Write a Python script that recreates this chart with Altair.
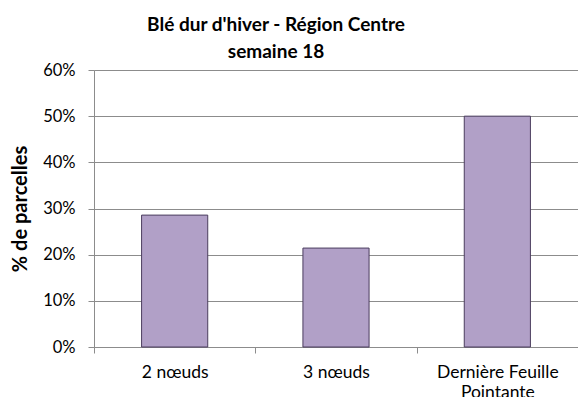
import altair as alt
import pandas as pd

categories = ["2 nœuds", "3 nœuds", "Dernière Feuille Pointante"]
values = [0.2857, 0.2143, 0.5]

df = pd.DataFrame({"stade": categories, "pct": values})

FONT = "Lato"
GRID = "#8c8c8c"

label_expr = ("datum.label == 'Dernière Feuille Pointante' ? "
              "['Dernière Feuille', 'Pointante'] : datum.label")

bars = alt.Chart(df).mark_bar(
    color="#b1a0c7", stroke="#4b3d5e", strokeWidth=1,
    width=alt.RelativeBandSize(0.41)
).encode(
    x=alt.X("stade:N", sort=categories, title=None,
            scale=alt.Scale(paddingInner=0, paddingOuter=0),
            axis=alt.Axis(labelAngle=0, labelExpr=label_expr, tickBand="extent",
                          tickSize=6, tickColor=GRID, domainColor=GRID,
                          labelPadding=10, labelFont=FONT, labelFontSize=17.5,
                          labelColor="#000000", labelLineHeight=20, grid=False)),
    y=alt.Y("pct:Q", title="% de parcelles",
            scale=alt.Scale(domain=[0, 0.6], nice=False),
            axis=alt.Axis(format=".0%", values=[0, 0.1, 0.2, 0.3, 0.4, 0.5, 0.6],
                          tickSize=6, tickColor=GRID, domainColor=GRID,
                          gridColor=GRID, gridWidth=1, labelPadding=13,
                          labelFont=FONT, labelFontSize=16.5, labelColor="#000000",
                          titleFont=FONT, titleFontSize=20, titleFontWeight="bold",
                          titleColor="#000000", titleX=-64)),
)

chart = bars.properties(
    width=484, height=277,
    title=alt.TitleParams(
        text=["Blé dur d'hiver - Région Centre", "semaine 18"],
        font=FONT, fontSize=19, fontWeight="bold", color="#000000",
        anchor="middle", dx=-60, dy=10, offset=10, lineHeight=27),
    autosize=alt.AutoSizeParams(type="none"),
    padding={"left": 86, "top": 62, "right": 0, "bottom": 50},
).configure_view(stroke=None).configure(background="white")

chart.save("out.html", embed_options={"renderer": "svg", "actions": False})
